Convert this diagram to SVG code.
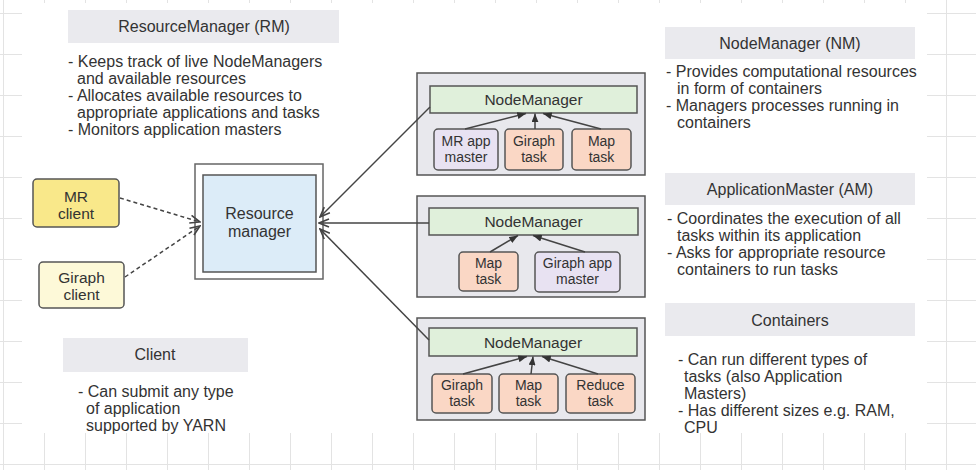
<svg xmlns="http://www.w3.org/2000/svg" width="976" height="470" viewBox="0 0 976 470">
<defs>
<pattern id="grid" patternUnits="userSpaceOnUse" x="3" y="13" width="41" height="41">
<path d="M0,0 H41 M0,0 V41" fill="none" stroke="#e3e3e3" stroke-width="2"/>
</pattern>
<marker id="open" viewBox="0 0 12 10" refX="11" refY="5" markerWidth="12" markerHeight="10" markerUnits="userSpaceOnUse" orient="auto">
<path d="M1,1 L11,5 L1,9" fill="none" stroke="#444" stroke-width="1.6"/>
</marker>
<marker id="tri" viewBox="0 0 10 8" refX="10" refY="4" markerWidth="9" markerHeight="7" markerUnits="userSpaceOnUse" orient="auto">
<path d="M0,0 L10,4 L0,8 Z" fill="#333"/>
</marker>
</defs>
<style>
text{font-family:"Liberation Sans",Arial,sans-serif;fill:#333;}
.h{font-size:16px;text-anchor:middle;}
.b{font-size:16px;}
.n{font-size:15.5px;text-anchor:middle;}
.t{font-size:14px;text-anchor:middle;}
.hdr{fill:#eaeaee;}
.box{stroke:#555;stroke-width:1.5;}
.nm{fill:#e8e8ed;stroke:#555;stroke-width:1.5;}
.green{fill:#e0f0db;stroke:#555;stroke-width:1.5;}
.task{fill:#fad7c5;stroke:#555;stroke-width:1.5;}
.am{fill:#e8e2f2;stroke:#555;stroke-width:1.5;}
.c line{stroke:#444;stroke-width:1.5;}
.dash{stroke-dasharray:4 3;marker-end:url(#open);}
.solid{marker-end:url(#open);}
.in{marker-end:url(#tri);}
</style>
<rect width="976" height="470" fill="#fff"/>
<rect width="976" height="470" fill="url(#grid)"/>
<rect x="22" y="3" width="905" height="430" fill="#fff"/>

<g id="rm-info">
<rect class="hdr" x="68" y="10" width="271" height="33"/>
<text class="h" x="204" y="32">ResourceManager (RM)</text>
<text class="b" x="68" y="67">- Keeps track of live NodeManagers</text>
<text class="b" x="77" y="84">and available resources</text>
<text class="b" x="68" y="101">- Allocates available resources to</text>
<text class="b" x="77" y="118">appropriate applications and tasks</text>
<text class="b" x="68" y="135">- Monitors application masters</text>
</g>

<g id="client-info">
<rect class="hdr" x="63" y="338" width="185" height="34"/>
<text class="h" x="155" y="360">Client</text>
<text class="b" x="78" y="397">- Can submit any type</text>
<text class="b" x="86" y="414">of application</text>
<text class="b" x="86" y="431">supported by YARN</text>
</g>

<g id="nm-info">
<rect class="hdr" x="665" y="27" width="250" height="32"/>
<text class="h" x="790" y="49">NodeManager (NM)</text>
<text class="b" x="666" y="77">- Provides computational resources</text>
<text class="b" x="677" y="94">in form of containers</text>
<text class="b" x="666" y="111">- Managers processes running in</text>
<text class="b" x="677" y="128">containers</text>
</g>

<g id="am-info">
<rect class="hdr" x="665" y="173" width="250" height="32"/>
<text class="h" x="790" y="195">ApplicationMaster (AM)</text>
<text class="b" x="667" y="224">- Coordinates the execution of all</text>
<text class="b" x="677" y="241">tasks within its application</text>
<text class="b" x="667" y="258">- Asks for appropriate resource</text>
<text class="b" x="677" y="275">containers to run tasks</text>
</g>

<g id="containers-info">
<rect class="hdr" x="665" y="303" width="250" height="33"/>
<text class="h" x="790" y="326">Containers</text>
<text class="b" x="678" y="365">- Can run different types of</text>
<text class="b" x="684" y="382">tasks (also Application</text>
<text class="b" x="684" y="399">Masters)</text>
<text class="b" x="678" y="416">- Has different sizes e.g. RAM,</text>
<text class="b" x="684" y="433">CPU</text>
</g>

<g id="mr-client">
<rect class="box" x="33" y="179" width="86" height="48" rx="4" fill="#f9e88a"/>
<text class="n" x="76" y="202">MR</text>
<text class="n" x="76" y="219">client</text>
</g>

<g id="giraph-client">
<rect class="box" x="39" y="262" width="85" height="46" rx="4" fill="#fdf9d8"/>
<text class="n" x="81.5" y="283">Giraph</text>
<text class="n" x="81.5" y="300">client</text>
</g>

<g id="resource-manager">
<rect x="195" y="164" width="128" height="115" fill="#fff" stroke="#666" stroke-width="1.5"/>
<rect x="203" y="175" width="113" height="97" fill="#dcecf8" stroke="#555" stroke-width="1.5"/>
<text class="n" x="259.5" y="219" style="font-size:16px">Resource</text>
<text class="n" x="259.5" y="237" style="font-size:16px">manager</text>
</g>

<g id="node1">
<rect class="nm" x="417" y="73" width="228" height="102"/>
<rect class="green" x="430" y="86" width="207" height="27"/>
<text class="n" x="533.5" y="105">NodeManager</text>
<rect class="am" x="434" y="129" width="64" height="41" rx="4"/>
<text class="t" x="466" y="146">MR app</text>
<text class="t" x="466" y="162">master</text>
<rect class="task" x="505" y="129" width="58" height="41" rx="4"/>
<text class="t" x="534" y="146">Giraph</text>
<text class="t" x="534" y="162">task</text>
<rect class="task" x="572" y="129" width="59" height="41" rx="4"/>
<text class="t" x="601.5" y="146">Map</text>
<text class="t" x="601.5" y="162">task</text>
</g>

<g id="node2">
<rect class="nm" x="417" y="196" width="228" height="101"/>
<rect class="green" x="429" y="208" width="209" height="27"/>
<text class="n" x="533.5" y="227">NodeManager</text>
<rect class="task" x="459" y="252" width="59" height="39" rx="4"/>
<text class="t" x="488.5" y="268">Map</text>
<text class="t" x="488.5" y="284">task</text>
<rect class="am" x="535" y="252" width="85" height="40" rx="4"/>
<text class="t" x="577.5" y="268">Giraph app</text>
<text class="t" x="577.5" y="284">master</text>
</g>

<g id="node3">
<rect class="nm" x="417" y="318" width="228" height="102"/>
<rect class="green" x="429" y="328" width="208" height="28"/>
<text class="n" x="533" y="348">NodeManager</text>
<rect class="task" x="432" y="374" width="60" height="39" rx="4"/>
<text class="t" x="462" y="390">Giraph</text>
<text class="t" x="462" y="406">task</text>
<rect class="task" x="499" y="374" width="59" height="39" rx="4"/>
<text class="t" x="528.5" y="390">Map</text>
<text class="t" x="528.5" y="406">task</text>
<rect class="task" x="566" y="374" width="69" height="39" rx="4"/>
<text class="t" x="600.5" y="390">Reduce</text>
<text class="t" x="600.5" y="406">task</text>
</g>

<g id="connectors" class="c">
<line class="dash" x1="120" y1="198" x2="200" y2="222"/>
<line class="dash" x1="125" y1="277" x2="200" y2="226"/>
<line class="solid" x1="430" y1="107" x2="320" y2="217"/>
<line class="solid" x1="429" y1="223" x2="319" y2="223"/>
<line class="solid" x1="429" y1="340" x2="320" y2="229"/>
<line class="in" x1="465" y1="129" x2="526" y2="113.5"/>
<line class="in" x1="535" y1="129" x2="535" y2="113.5"/>
<line class="in" x1="601" y1="129" x2="543" y2="113.5"/>
<line class="in" x1="490" y1="252" x2="518" y2="235.5"/>
<line class="in" x1="585" y1="252" x2="533" y2="235.5"/>
<line class="in" x1="463" y1="374" x2="527" y2="356.5"/>
<line class="in" x1="531" y1="374" x2="533" y2="356.5"/>
<line class="in" x1="598" y1="374" x2="542" y2="356.5"/>
</g>
</svg>
